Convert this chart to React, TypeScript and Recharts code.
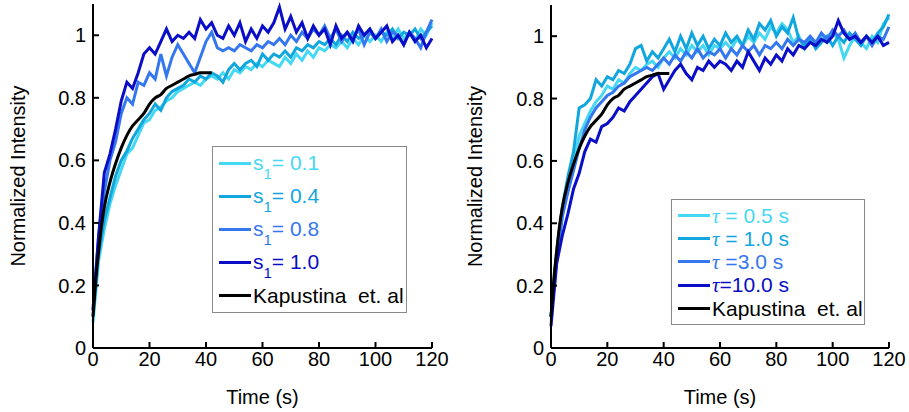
import React from 'react';
import { LineChart, Line, XAxis, YAxis, Legend } from 'recharts';

// sample times (s)
const TIME = [
  0, 2, 4, 6, 8, 10, 12, 14, 16, 18,
  20, 22, 24, 26, 28, 30, 32, 34, 36, 38,
  40, 42, 44, 46, 48, 50, 52, 54, 56, 58,
  60, 62, 64, 66, 68, 70, 72, 74, 76, 78,
  80, 82, 84, 86, 88, 90, 92, 94, 96, 98,
  100, 102, 104, 106, 108, 110, 112, 114, 116, 118,
  120,
];

const TIME_TICKS = [0, 20, 40, 60, 80, 100, 120];
const INTENSITY_TICKS = [0, 0.2, 0.4, 0.6, 0.8, 1];

// left panel: s1 sweep
const S1_01 = [
  0.08, 0.28, 0.38, 0.46, 0.52, 0.57, 0.62, 0.64, 0.68, 0.72,
  0.73, 0.76, 0.77, 0.79, 0.8, 0.82, 0.83, 0.84, 0.85, 0.84,
  0.86, 0.87, 0.86, 0.88, 0.86, 0.89, 0.88, 0.9, 0.89, 0.91,
  0.9, 0.92, 0.91, 0.9, 0.93, 0.91, 0.94, 0.92, 0.95, 0.93,
  0.96, 0.95, 0.97, 0.96, 0.98, 0.96, 0.99, 0.97, 1.0, 0.98,
  1.0, 0.98, 1.01, 0.99, 1.02, 0.99, 1.01, 0.98, 1.02, 1.0,
  1.04,
];
const S1_04 = [
  0.1, 0.3, 0.41, 0.48, 0.55, 0.6, 0.63, 0.67, 0.7, 0.73,
  0.75, 0.78, 0.76, 0.8, 0.82, 0.83, 0.84, 0.86, 0.85, 0.87,
  0.86, 0.88, 0.87, 0.85, 0.89, 0.91, 0.89, 0.91, 0.92, 0.9,
  0.94, 0.92, 0.94, 0.93, 0.95, 0.93, 0.96, 0.95, 0.97, 0.96,
  0.98, 0.97, 0.99, 0.97, 1.0, 0.98, 1.01, 0.99, 1.0, 1.02,
  0.99, 1.01, 1.0, 1.02, 0.99, 1.01, 1.0, 1.02, 0.99, 1.01,
  1.03,
];
const S1_08 = [
  0.12, 0.36, 0.5, 0.6, 0.66, 0.75, 0.8, 0.78, 0.85, 0.84,
  0.88, 0.86, 0.94, 0.87, 0.93, 0.97, 0.94, 0.91, 0.88, 0.93,
  0.98, 1.01, 0.96, 0.95, 0.96, 0.95, 0.97, 0.96, 0.95, 0.97,
  0.96, 0.98, 0.97, 0.99, 0.97, 1.0, 0.98, 1.01, 0.99, 1.02,
  1.0, 1.03, 0.99, 1.02, 0.98, 1.01, 0.99, 1.02, 0.97, 1.01,
  0.99, 1.02, 0.98, 1.01, 1.0, 0.97, 1.01, 0.99, 0.96, 1.01,
  1.05,
];
const S1_10 = [
  0.12, 0.36, 0.56, 0.62, 0.7, 0.79, 0.85, 0.83, 0.88, 0.94,
  0.96, 0.94, 0.98, 1.02, 0.98, 1.0, 0.99, 1.01, 0.99, 1.05,
  1.02, 1.04, 1.0, 0.99, 1.03, 1.0, 1.04, 0.98, 1.02, 0.99,
  1.03, 1.01, 1.04, 1.09, 1.02, 1.06, 1.01, 1.04, 0.99, 1.03,
  1.0, 1.02, 0.97, 1.03, 0.99, 1.01, 0.98, 1.03, 1.0, 1.02,
  0.99, 1.01, 1.03, 0.98, 1.0, 0.97, 1.01, 0.98, 1.0, 0.96,
  0.99,
];

// right panel: tau sweep
const TAU_05 = [
  0.1, 0.3, 0.42, 0.52, 0.6, 0.68, 0.72, 0.76, 0.79, 0.81,
  0.84, 0.83, 0.86, 0.85, 0.88, 0.9, 0.89, 0.91, 0.92, 0.9,
  0.93, 0.95, 0.93, 0.96, 0.94, 0.97, 0.95, 0.97, 0.94, 0.97,
  0.96, 0.98, 0.96, 0.99, 0.97, 1.0, 0.98, 1.01, 0.99, 1.03,
  1.01, 1.04, 1.02, 0.98, 1.0, 0.96, 0.99, 0.97, 1.0, 0.98,
  1.01, 0.99, 0.93, 0.97, 1.0, 0.98, 0.96, 1.0, 0.98, 1.04,
  1.06,
];
const TAU_10 = [
  0.1, 0.31, 0.45, 0.55, 0.63, 0.77, 0.78, 0.8, 0.86, 0.84,
  0.87, 0.86, 0.89, 0.88, 0.91, 0.96, 0.97, 0.92, 0.95, 0.93,
  0.96, 0.99, 0.95, 1.0, 0.96, 1.01, 0.97, 1.0, 0.96, 0.99,
  0.97, 1.01, 0.98, 1.0, 0.97, 1.02, 0.99, 1.04, 1.02, 1.05,
  1.0, 1.03, 1.01, 1.06, 0.99, 0.97, 0.99, 0.96, 0.98, 1.0,
  0.97, 1.0, 0.98, 1.01, 0.99, 0.97, 1.0, 0.98, 1.01, 1.03,
  1.07,
];
const TAU_30 = [
  0.1, 0.28, 0.42, 0.5, 0.57, 0.64, 0.7, 0.74, 0.77, 0.79,
  0.81, 0.82, 0.84, 0.85, 0.87, 0.88, 0.89, 0.9, 0.89, 0.91,
  0.93, 0.91, 0.94, 0.92, 0.95, 0.93, 0.96, 0.93, 0.95, 0.94,
  0.96, 0.93, 0.96, 0.94, 0.97, 0.95, 0.97, 0.94, 0.97, 0.96,
  0.98, 0.96, 0.99, 0.97, 0.99, 0.98, 1.0, 0.98, 1.01, 0.99,
  1.02, 1.0, 1.02, 0.99, 1.01, 0.98, 1.0, 0.97, 1.0, 0.99,
  1.03,
];
const TAU_100 = [
  0.07, 0.27, 0.36, 0.43, 0.51, 0.56, 0.63, 0.67, 0.66, 0.71,
  0.72, 0.74, 0.77, 0.76, 0.79, 0.81, 0.83, 0.85, 0.87, 0.88,
  0.83, 0.86, 0.89, 0.91, 0.88, 0.86, 0.9, 0.89, 0.92, 0.9,
  0.92, 0.91, 0.89, 0.92, 0.9, 0.95, 0.92, 0.89, 0.93, 0.91,
  0.94, 0.92, 0.96, 0.94, 0.97, 0.96, 0.98, 0.97, 0.99, 0.98,
  1.0, 1.05, 1.01, 0.99, 1.0, 0.98, 1.0, 0.98, 1.0, 0.97,
  0.98,
];

// Kapustina et al. reference curve
const KAP_TIME = [0, 1, 2, 3, 4, 6, 8, 10, 12, 14, 16, 18, 20, 22, 24, 26, 28, 30, 32, 34, 36, 38, 40, 42];
const KAP = [0.1, 0.22, 0.31, 0.39, 0.45, 0.53, 0.59, 0.64, 0.68, 0.71, 0.73, 0.75, 0.78, 0.8, 0.81, 0.83, 0.84, 0.85, 0.86, 0.87, 0.875, 0.88, 0.88, 0.88];

const LEFT_NAMES = ['s1= 0.1', 's1= 0.4', 's1= 0.8', 's1= 1.0'];
const RIGHT_NAMES = ['τ = 0.5 s', 'τ = 1.0 s', 'τ =3.0 s', 'τ=10.0 s'];
const KAP_NAME = 'Kapustina  et. al';
const COLORS = ['#45d8f4', '#12a6de', '#3577ef', '#0a0ec6'];

const FONT = '"Liberation Sans", Arial, sans-serif';

const kapRows = KAP_TIME.map((t, i) => ({ t, v: KAP[i] }));
const leftRows = TIME.map((t, i) => ({ t, a: S1_01[i], b: S1_04[i], c: S1_08[i], d: S1_10[i] }));
const rightRows = TIME.map((t, i) => ({ t, a: TAU_05[i], b: TAU_10[i], c: TAU_30[i], d: TAU_100[i] }));

const renderName = (name: string) => {
  if (name.startsWith('s1')) {
    return (
      <>
        s<span style={{ fontSize: 15, position: 'relative', top: 9 }}>1</span>
        {name.slice(2)}
      </>
    );
  }
  if (name.startsWith('τ')) {
    return (
      <>
        <span style={{ fontFamily: '"Liberation Serif", serif', fontStyle: 'italic' }}>τ</span>
        {name.slice(1)}
      </>
    );
  }
  return name;
};

const makeLegend = (order: string[], rowH: number, padY: number, width: number) => (props: any) => {
  const payload = [...(props.payload || [])].sort(
    (a: any, b: any) => order.indexOf(a.value) - order.indexOf(b.value)
  );
  return (
    <div
      style={{
        border: '1px solid #8a8a8a',
        background: '#fff',
        boxSizing: 'border-box',
        width,
        padding: `${padY}px 0`,
        fontFamily: FONT,
      }}
    >
      {payload.map((entry: any) => (
        <div key={entry.value} style={{ display: 'flex', alignItems: 'center', height: rowH, paddingLeft: 6 }}>
          <span style={{ display: 'inline-block', width: 32, height: 3, background: entry.color, marginRight: 2 }} />
          <span style={{ color: entry.color, fontSize: 21, lineHeight: '21px', whiteSpace: 'pre' }}>
            {renderName(entry.value)}
          </span>
        </div>
      ))}
    </div>
  );
};

interface PanelProps {
  rows: any[];
  names: string[];
  width: number;
  marginTop: number;
  marginRight: number;
  yAxisWidth: number;
  yLabelX: number;
  legendLeft: number;
  legendTop: number;
  legend: (props: any) => React.ReactNode;
}

const Panel: React.FC<PanelProps> = (p) => {
  const tickStyle = { fill: '#000', fontSize: 20, fontFamily: FONT };
  const axisStroke = { stroke: '#000', strokeWidth: 2 };
  return (
    <LineChart
      width={p.width}
      height={412}
      data={p.rows}
      margin={{ top: p.marginTop, right: p.marginRight, bottom: 0, left: 0 }}
    >
      <XAxis
        dataKey="t"
        type="number"
        domain={[0, 120]}
        ticks={TIME_TICKS}
        height={64}
        tickSize={-6}
        tickMargin={10}
        tick={tickStyle}
        axisLine={axisStroke}
        tickLine={axisStroke}
        label={{ value: 'Time (s)', position: 'insideBottom', offset: 8, fill: '#000', fontSize: 20, fontFamily: FONT }}
      />
      <XAxis
        xAxisId="top"
        orientation="top"
        type="number"
        domain={[0, 120]}
        ticks={TIME_TICKS}
        height={0}
        tickSize={-6}
        tickFormatter={() => ''}
        axisLine={axisStroke}
        tickLine={axisStroke}
      />
      <YAxis
        type="number"
        domain={[0, 1.1]}
        ticks={INTENSITY_TICKS}
        width={p.yAxisWidth}
        tickSize={-6}
        tickMargin={13}
        tick={tickStyle}
        axisLine={axisStroke}
        tickLine={axisStroke}
        label={{
          content: (lp: any) => {
            const vb = lp.viewBox || {};
            const cx = vb.x + p.yLabelX;
            const cy = vb.y + vb.height / 2;
            return (
              <text
                x={cx}
                y={cy}
                transform={`rotate(-90, ${cx}, ${cy})`}
                textAnchor="middle"
                dominantBaseline="central"
                fill="#000"
                fontSize={20}
                fontFamily={FONT}
              >
                Normalized Intensity
              </text>
            );
          },
        }}
      />
      <YAxis
        yAxisId="right"
        orientation="right"
        type="number"
        domain={[0, 1.1]}
        ticks={INTENSITY_TICKS}
        width={0}
        tickSize={-6}
        tickFormatter={() => ''}
        axisLine={axisStroke}
        tickLine={axisStroke}
      />
      {['a', 'b', 'c', 'd'].map((k, i) => (
        <Line
          key={k}
          dataKey={k}
          name={p.names[i]}
          type="linear"
          stroke={COLORS[i]}
          strokeWidth={3}
          dot={false}
          isAnimationActive={false}
        />
      ))}
      <Line
        data={kapRows}
        dataKey="v"
        name={KAP_NAME}
        type="monotone"
        stroke="#000"
        strokeWidth={3}
        dot={false}
        isAnimationActive={false}
      />
      <Legend
        layout="vertical"
        align="center"
        verticalAlign="middle"
        content={p.legend}
        wrapperStyle={{ left: p.legendLeft, top: p.legendTop, width: 'auto' }}
      />
    </LineChart>
  );
};

export default function App() {
  return (
    <div style={{ position: 'absolute', left: 0, top: 0, width: 909, height: 412, background: '#fff' }}>
      <div style={{ position: 'absolute', left: 0, top: 0 }}>
        <Panel
          rows={leftRows}
          names={LEFT_NAMES}
          width={455}
          marginTop={4}
          marginRight={23}
          yAxisWidth={93}
          yLabelX={18}
          legendLeft={212}
          legendTop={146}
          legend={makeLegend([...LEFT_NAMES, KAP_NAME], 33, 0, 195)}
        />
      </div>
      <div style={{ position: 'absolute', left: 455, top: 0 }}>
        <Panel
          rows={rightRows}
          names={RIGHT_NAMES}
          width={454}
          marginTop={5}
          marginRight={20}
          yAxisWidth={96}
          yLabelX={20}
          legendLeft={216}
          legendTop={199}
          legend={makeLegend([...RIGHT_NAMES, KAP_NAME], 23.2, 4, 194)}
        />
      </div>
    </div>
  );
}
